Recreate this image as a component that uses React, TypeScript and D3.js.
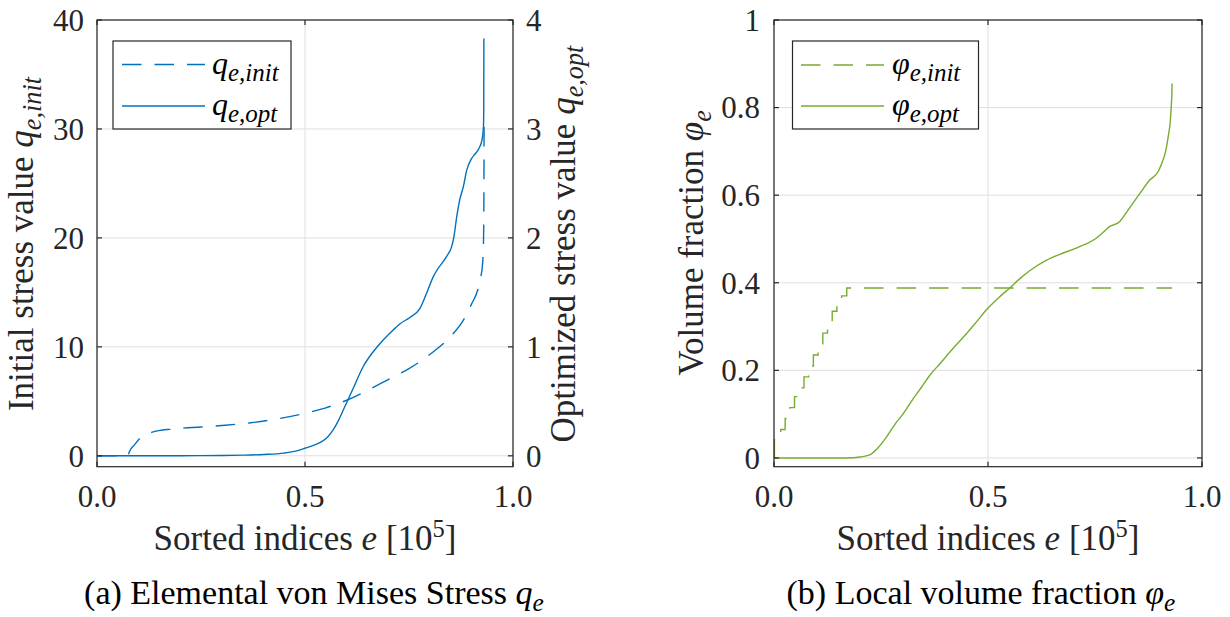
import React from 'react';
import * as d3 from 'd3';

// ---------- data ----------
const xTicks = [0, 0.5, 1];
const xTickLabels = ['0.0', '0.5', '1.0'];
const qLeftTicks = [0, 10, 20, 30, 40];
const qRightTicks = [0, 1, 2, 3, 4];
const phiTicks = [0, 0.2, 0.4, 0.6, 0.8, 1];
const phiTickLabels = ['0', '0.2', '0.4', '0.6', '0.8', '1'];

// initial stress (left axis), x in 10^5
const qInitX = [0, 0.074, 0.078, 0.09, 0.103, 0.12, 0.135, 0.155, 0.175, 0.2, 0.25, 0.3, 0.37, 0.45, 0.5, 0.55, 0.6, 0.65, 0.7, 0.75, 0.8, 0.85, 0.88, 0.9, 0.915, 0.922, 0.927, 0.929, 0.9298, 0.9302, 0.9305];
const qInitY = [0, 0, 0.4, 1.0, 1.6, 1.95, 2.2, 2.35, 2.43, 2.52, 2.64, 2.78, 3.03, 3.5, 3.9, 4.4, 5.1, 6.0, 7.0, 8.0, 9.3, 10.95, 12.4, 13.9, 15.2, 16.3, 17.7, 19.5, 22, 26, 31];

// optimized stress (right axis)
const qOptX = [0, 0.1, 0.2, 0.3, 0.35, 0.4, 0.45, 0.48, 0.5, 0.52, 0.54, 0.555, 0.568, 0.58, 0.592, 0.616, 0.64, 0.664, 0.688, 0.712, 0.728, 0.752, 0.776, 0.792, 0.8085, 0.8165, 0.8405, 0.8525, 0.858, 0.8646, 0.8726, 0.8806, 0.8886, 0.9007, 0.9087, 0.9166, 0.9255, 0.929, 0.9296, 0.93];
const qOptY = [0, 0, 0.001, 0.003, 0.006, 0.012, 0.025, 0.045, 0.069, 0.095, 0.13, 0.175, 0.24, 0.32, 0.42, 0.62, 0.82, 0.955, 1.063, 1.155, 1.21, 1.27, 1.35, 1.49, 1.645, 1.7, 1.83, 1.92, 2.01, 2.19, 2.36, 2.47, 2.62, 2.73, 2.77, 2.81, 2.9, 3.02, 3.14, 3.83];

// initial volume fraction (staircase)
const phiInitX = [0, 0.001, 0.0156, 0.026, 0.037, 0.048, 0.059, 0.07, 0.081, 0.092, 0.103, 0.114, 0.125, 0.136, 0.147, 0.158, 0.17, 0.93];
const phiInitY = [0, 0.05, 0.065, 0.09, 0.115, 0.14, 0.16, 0.185, 0.21, 0.235, 0.26, 0.285, 0.31, 0.335, 0.355, 0.37, 0.388, 0.388];

// optimized volume fraction
const phiOptX = [0, 0.15, 0.185, 0.2, 0.224, 0.24, 0.263, 0.285, 0.302, 0.325, 0.345, 0.365, 0.3876, 0.42, 0.45, 0.475, 0.498, 0.525, 0.553, 0.575, 0.599, 0.636, 0.668, 0.7, 0.7276, 0.752, 0.77, 0.782, 0.808, 0.828, 0.855, 0.878, 0.897, 0.907, 0.915, 0.921, 0.926, 0.928, 0.9295, 0.93];
const phiOptY = [0, 0, 0.0005, 0.002, 0.007, 0.02, 0.048, 0.08, 0.101, 0.135, 0.162, 0.19, 0.215, 0.252, 0.284, 0.313, 0.34, 0.366, 0.39, 0.41, 0.4286, 0.451, 0.465, 0.477, 0.488, 0.501, 0.516, 0.527, 0.54, 0.567, 0.604, 0.6345, 0.653, 0.675, 0.7, 0.733, 0.77, 0.8, 0.83, 0.855];

// ---------- styles ----------
const FONT = "'Liberation Serif', 'Times New Roman', serif";
const AX = '#262626';
const GRID = '#dfdfdf';
const BLUE = '#0072BD';
const GREEN = '#77AC30';
const DASH = '19.5 13';
const TICK_FS = 31;
const LABEL_FS = 35;
const LEG_FS = 32;
const CAP_FS = 34;
const TL = 5;

const zip = (xs: number[], ys: number[]) => xs.map((x, i) => [x, ys[i]] as [number, number]);

function Sub({ main, sub, fs, ratio = 0.7 }: { main: string; sub: string; fs: number; ratio?: number }) {
  return (
    <>
      <tspan fontStyle="italic">{main}</tspan>
      <tspan fontStyle="italic" fontSize={fs * ratio} dy={fs * 0.22}>{sub}</tspan>
    </>
  );
}

export default function App() {
  // left panel
  const lx0 = 97, lx1 = 513, top = 20, bot = 466.7;
  const xL = d3.scaleLinear().domain([0, 1]).range([lx0, lx1]);
  const yL = d3.scaleLinear().domain([-1, 40]).range([bot, top]);
  const yR = d3.scaleLinear().domain([-0.1, 4]).range([bot, top]);
  // right panel
  const rx0 = 774, rx1 = 1202;
  const xP = d3.scaleLinear().domain([0, 1]).range([rx0, rx1]);
  const yP = d3.scaleLinear().domain([-0.02, 1]).range([bot, top]);

  const mk = (xs: d3.ScaleLinear<number, number>, ys: d3.ScaleLinear<number, number>, curve: d3.CurveFactory) =>
    d3.line<[number, number]>().x(d => xs(d[0])).y(d => ys(d[1])).curve(curve);

  const pQInit = mk(xL, yL, d3.curveMonotoneX)(zip(qInitX, qInitY)) || '';
  const pQOpt = mk(xL, yR, d3.curveMonotoneX)(zip(qOptX, qOptY)) || '';
  const pPhiInit = mk(xP, yP, d3.curveStepAfter)(zip(phiInitX, phiInitY)) || '';
  const pPhiOpt = mk(xP, yP, d3.curveMonotoneX)(zip(phiOptX, phiOptY)) || '';

  const textCol = AX;

  return (
    <svg width={1230} height={617} style={{ position: 'absolute', left: 0, top: 0, background: '#fff' }} fontFamily={FONT}>
      <rect x={0} y={0} width={1230} height={617} fill="#fff" />

      {/* ===== Left panel ===== */}
      <g>
        {qLeftTicks.map(t => (
          <line key={'gl' + t} x1={lx0} x2={lx1} y1={yL(t)} y2={yL(t)} stroke={GRID} strokeWidth={1} />
        ))}
        {xTicks.map(t => (
          <line key={'gx' + t} x1={xL(t)} x2={xL(t)} y1={top} y2={bot} stroke={GRID} strokeWidth={1} />
        ))}
        <path d={pQInit} fill="none" stroke={BLUE} strokeWidth={1.4} strokeDasharray={DASH} />
        <path d={pQOpt} fill="none" stroke={BLUE} strokeWidth={1.4} />
        <rect x={lx0} y={top} width={lx1 - lx0} height={bot - top} fill="none" stroke={AX} strokeWidth={1.2} />
        {qLeftTicks.map(t => (
          <g key={'tl' + t}>
            <line x1={lx0} x2={lx0 + TL} y1={yL(t)} y2={yL(t)} stroke={AX} strokeWidth={1.2} />
            <text x={lx0 - 13} y={yL(t)} dy="0.35em" textAnchor="end" fontSize={TICK_FS} fill={textCol}>{t}</text>
          </g>
        ))}
        {qRightTicks.map(t => (
          <g key={'tr' + t}>
            <line x1={lx1 - TL} x2={lx1} y1={yR(t)} y2={yR(t)} stroke={AX} strokeWidth={1.2} />
            <text x={lx1 + 13} y={yR(t)} dy="0.35em" textAnchor="start" fontSize={TICK_FS} fill={textCol}>{t}</text>
          </g>
        ))}
        {xTicks.map((t, i) => (
          <g key={'tx' + t}>
            <line x1={xL(t)} x2={xL(t)} y1={bot} y2={bot - TL} stroke={AX} strokeWidth={1.2} />
            <line x1={xL(t)} x2={xL(t)} y1={top} y2={top + TL} stroke={AX} strokeWidth={1.2} />
            <text x={xL(t)} y={507} textAnchor="middle" fontSize={TICK_FS} fill={textCol}>{xTickLabels[i]}</text>
          </g>
        ))}
        {/* axis labels */}
        <text x={(lx0 + lx1) / 2} y={550} textAnchor="middle" fontSize={LABEL_FS} fill={textCol}>
          Sorted indices <tspan fontStyle="italic">e</tspan> [10<tspan fontSize={LABEL_FS * 0.7} dy={-LABEL_FS * 0.38}>5</tspan><tspan dy={LABEL_FS * 0.38}>]</tspan>
        </text>
        <text transform={`translate(33,244) rotate(-90)`} textAnchor="middle" fontSize={LABEL_FS} fill={textCol}>
          Initial stress value <Sub main="q" sub="e,init" fs={LABEL_FS} ratio={0.75} />
        </text>
        <text transform={`translate(575,244) rotate(-90)`} textAnchor="middle" fontSize={LABEL_FS} fill={textCol}>
          Optimized stress value <Sub main="q" sub="e,opt" fs={LABEL_FS} ratio={0.75} />
        </text>
        {/* legend */}
        <rect x={113} y={41} width={178} height={88} fill="#fff" stroke={AX} strokeWidth={1.2} />
        <line x1={122} x2={205} y1={64.5} y2={64.5} stroke={BLUE} strokeWidth={1.4} strokeDasharray={DASH} />
        <line x1={122} x2={205} y1={106} y2={106} stroke={BLUE} strokeWidth={1.4} />
        <text x={212} y={73.5} fontSize={LEG_FS} fill="#000"><Sub main="q" sub="e,init" fs={LEG_FS} ratio={0.78} /></text>
        <text x={212} y={115} fontSize={LEG_FS} fill="#000"><Sub main="q" sub="e,opt" fs={LEG_FS} ratio={0.78} /></text>
        {/* caption */}
        <text x={314} y={604} textAnchor="middle" fontSize={CAP_FS} fill="#000">
          (a) Elemental von Mises Stress <Sub main="q" sub="e" fs={CAP_FS} ratio={0.75} />
        </text>
      </g>

      {/* ===== Right panel ===== */}
      <g>
        {phiTicks.map(t => (
          <line key={'gp' + t} x1={rx0} x2={rx1} y1={yP(t)} y2={yP(t)} stroke={GRID} strokeWidth={1} />
        ))}
        {xTicks.map(t => (
          <line key={'gpx' + t} x1={xP(t)} x2={xP(t)} y1={top} y2={bot} stroke={GRID} strokeWidth={1} />
        ))}
        <path d={pPhiInit} fill="none" stroke={GREEN} strokeWidth={1.4} strokeDasharray={DASH} />
        <path d={pPhiOpt} fill="none" stroke={GREEN} strokeWidth={1.4} />
        <rect x={rx0} y={top} width={rx1 - rx0} height={bot - top} fill="none" stroke={AX} strokeWidth={1.2} />
        {phiTicks.map((t, i) => (
          <g key={'tp' + t}>
            <line x1={rx0} x2={rx0 + TL} y1={yP(t)} y2={yP(t)} stroke={AX} strokeWidth={1.2} />
            <line x1={rx1 - TL} x2={rx1} y1={yP(t)} y2={yP(t)} stroke={AX} strokeWidth={1.2} />
            <text x={rx0 - 14} y={yP(t)} dy="0.35em" textAnchor="end" fontSize={TICK_FS} fill={textCol}>{phiTickLabels[i]}</text>
          </g>
        ))}
        {xTicks.map((t, i) => (
          <g key={'tpx' + t}>
            <line x1={xP(t)} x2={xP(t)} y1={bot} y2={bot - TL} stroke={AX} strokeWidth={1.2} />
            <line x1={xP(t)} x2={xP(t)} y1={top} y2={top + TL} stroke={AX} strokeWidth={1.2} />
            <text x={xP(t)} y={507} textAnchor="middle" fontSize={TICK_FS} fill={textCol}>{xTickLabels[i]}</text>
          </g>
        ))}
        <text x={(rx0 + rx1) / 2} y={550} textAnchor="middle" fontSize={LABEL_FS} fill={textCol}>
          Sorted indices <tspan fontStyle="italic">e</tspan> [10<tspan fontSize={LABEL_FS * 0.7} dy={-LABEL_FS * 0.38}>5</tspan><tspan dy={LABEL_FS * 0.38}>]</tspan>
        </text>
        <text transform={`translate(703,243) rotate(-90)`} textAnchor="middle" fontSize={LABEL_FS} fill={textCol}>
          Volume fraction <Sub main="φ" sub="e" fs={LABEL_FS} ratio={0.75} />
        </text>
        {/* legend */}
        <rect x={792.5} y={41} width={186} height={88} fill="#fff" stroke={AX} strokeWidth={1.2} />
        <line x1={801} x2={884} y1={65} y2={65} stroke={GREEN} strokeWidth={1.4} strokeDasharray={DASH} />
        <line x1={801} x2={884} y1={106} y2={106} stroke={GREEN} strokeWidth={1.4} />
        <text x={892} y={73.5} fontSize={LEG_FS} fill="#000"><Sub main="φ" sub="e,init" fs={LEG_FS} ratio={0.78} /></text>
        <text x={892} y={115} fontSize={LEG_FS} fill="#000"><Sub main="φ" sub="e,opt" fs={LEG_FS} ratio={0.78} /></text>
        <text x={981} y={604} textAnchor="middle" fontSize={CAP_FS} fill="#000">
          (b) Local volume fraction <Sub main="φ" sub="e" fs={CAP_FS} ratio={0.75} />
        </text>
      </g>
    </svg>
  );
}
